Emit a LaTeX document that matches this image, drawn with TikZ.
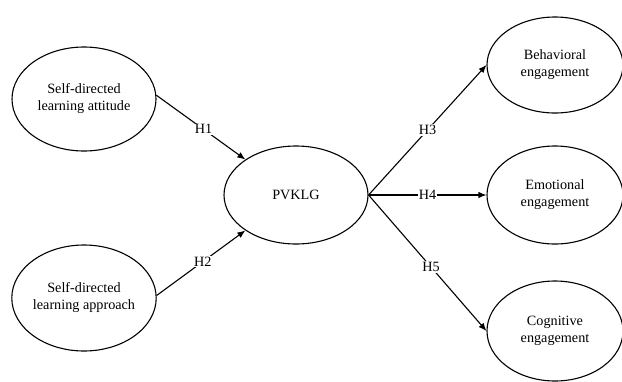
\documentclass[tikz,border=0pt]{standalone}
\usepackage{fontspec}
\setmainfont{Liberation Serif}
\usetikzlibrary{shapes.geometric,arrows.meta}

\tikzset{
  construct/.style={ellipse, draw, line width=1.1pt, inner sep=0pt,
    align=center, font=\fontsize{14.2}{17}\selectfont},
  path/.style={line width=1.1pt, -{Latex[length=8pt,width=6.5pt]}},
  hyp/.style={fill=white, inner sep=1pt, font=\fontsize{14.2}{17}\selectfont}
}

\begin{document}
\begin{tikzpicture}[x=1pt, y=-1pt]
  % canvas
  \path[fill=white, use as bounding box] (0,0) rectangle (622,381);

  % constructs
  \node[construct, minimum width=144pt, minimum height=104pt] (att) at (84,99)
    {Self-directed\\learning attitude};
  \node[construct, minimum width=144pt, minimum height=106pt] (app) at (84,298)
    {Self-directed\\learning approach};
  \node[construct, minimum width=144pt, minimum height=98pt] (pv) at (296,195)
    {PVKLG};
  \node[construct, minimum width=136pt, minimum height=96pt] (beh) at (555,65)
    {Behavioral\\engagement};
  \node[construct, minimum width=136pt, minimum height=98pt] (emo) at (555,195)
    {Emotional\\engagement};
  \node[construct, minimum width=136pt, minimum height=100pt] (cog) at (555,331)
    {Cognitive\\engagement};

  % hypothesised paths
  \draw[path] (att.3) -- node[hyp, pos=0.53] {H1} (pv.145);
  \draw[path] (app.2) -- node[hyp, pos=0.52] {H2} (pv.215);
  \draw[path] (pv.east) -- node[hyp, pos=0.5] {H3} (beh.west);
  \draw[path] (pv.east) -- node[hyp, pos=0.5] {H4} (emo.west);
  \draw[path] (pv.east) -- node[hyp, pos=0.53] {H5} (cog.west);
\end{tikzpicture}
\end{document}
